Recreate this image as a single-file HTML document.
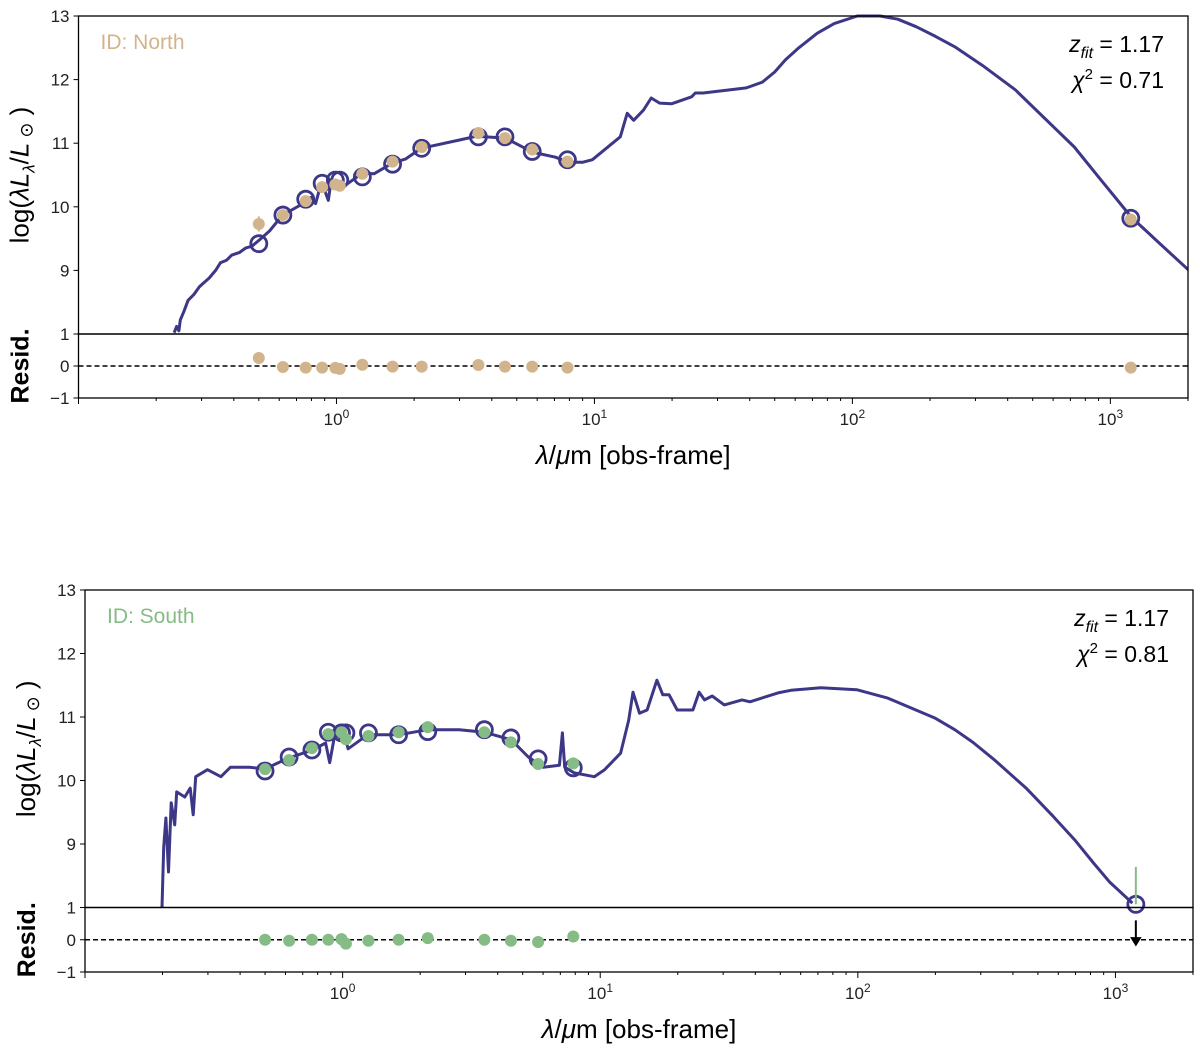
<!DOCTYPE html>
<html><head><meta charset="utf-8"><style>
html,body{margin:0;padding:0;background:#fff;}
svg{display:block;font-family:"Liberation Sans","DejaVu Sans",sans-serif;}
</style></head><body>
<svg id="fig" width="1200" height="1052" viewBox="0 0 1200 1052" xmlns="http://www.w3.org/2000/svg"></svg>
<script>
// ---- shared photometry wavelengths (micron) ----
const photLam = [0.50,0.62,0.76,0.88,0.99,1.03,1.26,1.65,2.14,3.55,4.5,5.74,7.86,1200];
const xTickLabels = ["10","10","10","10"];
const xTickExps = ["0","1","2","3"];
const yTickValues = [9,10,11,12,13];
const residTicks = [-1,0,1];

// ---- North panel ----
const northModelLam = [0.235,0.240,0.245,0.248,0.256,0.266,0.280,0.294,0.305,0.321,0.34,0.355,0.375,0.393,0.42,0.444,0.47,0.503,0.55,0.618,0.72,0.758,0.80,0.83,0.86,0.891,0.93,0.95,1.01,1.05,1.26,1.40,1.65,1.85,2.13,3.0,3.49,4.52,5.75,7.06,7.93,8.98,9.82,12.6,13.4,14.2,15.5,16.6,17.9,19.9,23.8,24.6,26.4,38.8,44.8,50,55.0,62,73.1,85,104.5,128,150,177,210,251,320,428,560,725,900,1205,1500,2005];
const northModelVal = [8.02,8.12,8.05,8.22,8.35,8.53,8.62,8.74,8.80,8.88,9.0,9.12,9.16,9.24,9.28,9.35,9.38,9.48,9.62,9.87,10.02,10.11,10.15,10.05,10.28,10.31,10.1,10.36,10.39,10.3,10.53,10.52,10.69,10.75,10.92,11.05,11.11,11.08,10.86,10.78,10.70,10.70,10.74,11.10,11.47,11.36,11.52,11.71,11.63,11.62,11.73,11.79,11.79,11.87,11.96,12.12,12.31,12.5,12.73,12.88,13.0,13.0,12.95,12.83,12.68,12.51,12.22,11.84,11.38,10.94,10.47,9.84,9.48,9.01];
const northObs = [9.73,9.87,10.09,10.31,10.35,10.33,10.52,10.71,10.94,11.16,11.08,10.90,10.71,9.80];
const northObsErr = [0.12,0,0,0,0,0,0,0,0,0,0,0,0,0];
const northFit = [9.42,9.87,10.12,10.37,10.42,10.42,10.47,10.67,10.92,11.10,11.10,10.87,10.74,9.82];
const northResid = [0.25,-0.03,-0.05,-0.05,-0.06,-0.09,0.04,-0.02,-0.02,0.03,-0.02,-0.02,-0.05,-0.05];

// ---- South panel ----
const southModelLam = [0.199,0.202,0.206,0.211,0.216,0.223,0.227,0.244,0.256,0.263,0.269,0.299,0.337,0.367,0.435,0.499,0.612,0.765,0.859,0.891,0.93,1.02,1.05,1.25,1.65,2.14,2.84,3.55,4.52,5.26,6.01,6.94,7.13,7.28,7.93,9.48,10.4,12.0,12.9,13.4,14.2,15.2,16.6,17.5,18.5,19.9,22.9,24.2,25.4,27.2,30.3,35.5,38.1,49.0,55,71.9,99,130,168,200,238,280,340,450,575,700,822,950,1164];
const southModelVal = [8.0,8.95,9.41,8.56,9.65,9.30,9.82,9.74,9.88,9.46,10.06,10.17,10.06,10.21,10.21,10.18,10.35,10.48,10.59,10.28,10.7,10.69,10.5,10.72,10.72,10.80,10.80,10.76,10.64,10.37,10.21,10.24,10.75,10.21,10.12,10.06,10.17,10.43,10.95,11.39,11.06,11.11,11.58,11.35,11.35,11.11,11.11,11.39,11.27,11.33,11.19,11.27,11.24,11.38,11.42,11.46,11.43,11.3,11.11,10.98,10.80,10.6,10.32,9.88,9.43,9.05,8.70,8.4,8.07];
const southObs = [10.18,10.32,10.51,10.73,10.76,10.65,10.70,10.76,10.84,10.76,10.60,10.26,10.27,null];
const southFit = [10.15,10.37,10.48,10.76,10.75,10.75,10.75,10.72,10.77,10.80,10.67,10.34,10.20,8.05];
const southResid = [0.0,-0.03,0.0,0.0,0.02,-0.12,-0.03,0.0,0.05,0.0,-0.03,-0.07,0.1,null];
const southUpperLimit = [null,null,null,null,null,null,null,null,null,null,null,null,null,8.64];

const NS='http://www.w3.org/2000/svg';
const svg=document.getElementById('fig');
function mk(tag,attrs,parent){const e=document.createElementNS(NS,tag);for(const k in attrs)e.setAttribute(k,attrs[k]);(parent||svg).appendChild(e);return e;}

function panel(cfg){
  const g=mk('g',{});
  
  
  const L=cfg.left,R=cfg.right,T=cfg.top,B=cfg.mainBottom,RB=cfg.residBottom;
  const lmin=-1,lmax=Math.log10(2000);
  const xs=l=>L+(Math.log10(l)-lmin)/(lmax-lmin)*(R-L);
  const ys=v=>T+(13-v)/(13-8)*(B-T);
  const yr=v=>B+(1-v)/2*(RB-B);
  const clipId='clip-'+cfg.name;
  const cp=mk('clipPath',{id:clipId},g);mk('rect',{x:L,y:T-2,width:R-L,height:B-T+2},cp);
  let d='';
  cfg.modelLam.forEach((l,i)=>{d+=(i?'L':'M')+xs(l).toFixed(1)+','+ys(cfg.modelVal[i]).toFixed(1);});
  const model=mk('path',{d:d,fill:'none',stroke:'#3d3787','stroke-width':3,'stroke-linejoin':'round','clip-path':'url(#'+clipId+')'},g);
  
  
  photLam.forEach((l,i)=>{
    const c=mk('circle',{cx:xs(l),cy:ys(cfg.fit[i]),r:8,fill:'none',stroke:'#3d3787','stroke-width':2.8},g);
    
    
  });
  photLam.forEach((l,i)=>{
    if(cfg.upper && cfg.upper[i]!=null){
      const u=mk('line',{x1:xs(l),x2:xs(l),y1:ys(cfg.upper[i]),y2:ys(cfg.fit[i]),stroke:cfg.color,'stroke-width':2},g);
      
      
    }
    if(cfg.obs[i]==null)return;
    if(cfg.err && cfg.err[i]>0){
      const e=mk('line',{x1:xs(l),x2:xs(l),y1:ys(cfg.obs[i]+cfg.err[i]),y2:ys(cfg.obs[i]-cfg.err[i]),stroke:cfg.color,'stroke-width':2},g);
      
      
    }
    const p=mk('circle',{cx:xs(l),cy:ys(cfg.obs[i]),r:6,fill:cfg.color},g);
    
    
  });
  const z=mk('line',{x1:L,x2:R,y1:yr(0),y2:yr(0),stroke:'#000','stroke-width':1.5,'stroke-dasharray':'5,3'},g);
  
  
  photLam.forEach((l,i)=>{
    if(cfg.resid[i]==null){
      const a=mk('path',{d:`M${xs(l)},${yr(0.6)}L${xs(l)},${yr(-0.1)}M${xs(l)-4},${yr(0.05)}L${xs(l)},${yr(-0.15)}L${xs(l)+4},${yr(0.05)}Z`,stroke:'#000','stroke-width':2,fill:'#000'},g);
      
      
      return;
    }
    const p=mk('circle',{cx:xs(l),cy:yr(cfg.resid[i]),r:6,fill:cfg.color},g);
    
    
  });
  const f1=mk('rect',{x:L,y:T,width:R-L,height:B-T,fill:'none',stroke:'#000','stroke-width':1.3},g);
  
  
  const f2=mk('rect',{x:L,y:B,width:R-L,height:RB-B,fill:'none',stroke:'#000','stroke-width':1.3},g);
  
  
  yTickValues.forEach(v=>{
    mk('line',{x1:L-5,x2:L,y1:ys(v),y2:ys(v),stroke:'#000','stroke-width':1},g);
    const t=mk('text',{x:L-9,y:ys(v)+6,'text-anchor':'end','font-size':17,fill:'#222'},g);t.textContent=v;
    
  });
  residTicks.forEach(v=>{
    mk('line',{x1:L-5,x2:L,y1:yr(v),y2:yr(v),stroke:'#000','stroke-width':1},g);
    const t=mk('text',{x:L-9,y:yr(v)+6,'text-anchor':'end','font-size':17,fill:'#222'},g);t.textContent=v<0?'\u2212'+(-v):v;
    
  });
  for(let e=-1;e<=3;e++){
    for(let m=1;m<=9;m++){
      const l=m*Math.pow(10,e); if(l<0.1||l>2000)continue;
      const X=xs(l);
      mk('line',{x1:X,x2:X,y1:RB,y2:RB+(m===1?6:3),stroke:'#000','stroke-width':1},g);
    }
  }
  xTickExps.forEach((ex,i)=>{
    const X=xs(Math.pow(10,+ex));
    const t=mk('text',{x:X,y:RB+27,'text-anchor':'middle','font-size':17,fill:'#222'},g);
    t.textContent=xTickLabels[i];
    const s=mk('tspan',{dy:-7,'font-size':12},t);s.textContent=ex;
    
  });
  const yl=mk('text',{x:0,y:0,transform:`translate(${L-50},${(T+B)/2}) rotate(-90)`,'text-anchor':'middle','font-size':26,fill:'#000'},g);
  yl.innerHTML='log(<tspan font-style="italic">λL</tspan><tspan font-style="italic" font-size="17" dy="6">λ</tspan><tspan dy="-6">/</tspan><tspan font-style="italic">L</tspan><tspan font-size="18" dy="4"> ⊙</tspan><tspan dy="-4"> )</tspan>';
  
  const rl=mk('text',{x:0,y:0,transform:`translate(${L-50},${(B+RB)/2}) rotate(-90)`,'text-anchor':'middle','font-size':25,'font-weight':'bold',fill:'#000'},g);
  rl.textContent='Resid.';
  const xl=mk('text',{x:(L+R)/2,y:RB+66,'text-anchor':'middle','font-size':26,fill:'#000'},g);
  xl.innerHTML='<tspan font-style="italic">λ</tspan>/<tspan font-style="italic">μ</tspan>m [obs-frame]';
  
  const id=mk('text',{x:L+22,y:T+33,'font-size':21,fill:cfg.color},g);
  id.textContent=cfg.idText;
  const a1=mk('text',{x:R-24,y:T+36,'text-anchor':'end','font-size':23,fill:'#000'},g);
  a1.innerHTML='<tspan font-style="italic">z</tspan><tspan font-style="italic" font-size="16" dy="6">fit</tspan><tspan dy="-6"> = 1.17</tspan>';
  
  const a2=mk('text',{x:R-24,y:T+72,'text-anchor':'end','font-size':23,fill:'#000'},g);
  a2.innerHTML='<tspan font-style="italic">χ</tspan><tspan font-size="15" dy="-9">2</tspan><tspan dy="9"> = '+cfg.chi+'</tspan>';
  
}

panel({name:'north',left:78.5,right:1188,top:16,mainBottom:334,residBottom:398,color:'#d2b48c',idText:'ID: North',chi:'0.71',
  modelLam:northModelLam,modelVal:northModelVal,obs:northObs,err:northObsErr,fit:northFit,resid:northResid});
panel({name:'south',left:85,right:1193,top:590,mainBottom:907.5,residBottom:972,color:'#85bb85',idText:'ID: South',chi:'0.81',
  modelLam:southModelLam,modelVal:southModelVal,obs:southObs,fit:southFit,resid:southResid,upper:southUpperLimit});
</script>
</body></html>
